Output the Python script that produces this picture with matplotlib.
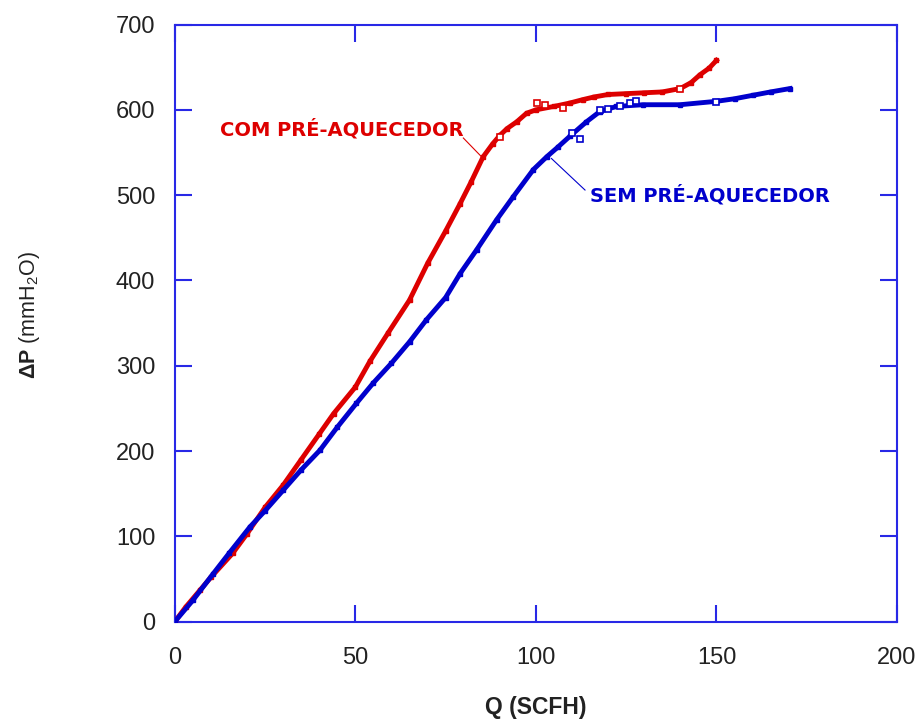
import matplotlib
matplotlib.use("Agg")
import matplotlib.pyplot as plt

plt.rcParams['font.family'] = ['Liberation Sans', 'DejaVu Sans']
plt.rcParams['mathtext.fontset'] = 'custom'
plt.rcParams['mathtext.rm'] = 'Liberation Sans'
plt.rcParams['mathtext.bf'] = 'Liberation Sans:bold'

# COM PRÉ-AQUECEDOR (red)
q_com = [0, 3, 7, 10, 16, 20, 25, 30, 35, 40, 44, 50, 54, 59, 65, 70, 75, 79, 82,
         85.4, 88, 90, 92, 94.7, 97.4, 100, 105, 109.4, 113, 116, 120, 125, 130,
         135, 140, 143, 145.4, 148, 150]
dp_com = [0, 17, 37, 52, 80, 103, 134, 160, 190, 220, 244, 275, 305, 338, 377, 420,
          458, 490, 515, 545, 560, 570, 578, 586, 596, 600, 604, 608, 612, 615, 618,
          619, 620, 621, 625, 632, 641, 649, 658]
q_com_open = [90, 100.2, 102.5, 107.6, 139.9]
dp_com_open = [568.6, 607.7, 606, 602, 625]

# SEM PRÉ-AQUECEDOR (blue)
q_sem = [0, 5, 10.6, 15, 20.8, 25, 30, 35, 40.2, 45, 50.3, 55, 60, 65, 69.7, 75, 79,
         83.6, 89.1, 93.7, 99.3, 103, 106, 109.4, 114, 117.7, 122.3, 129.7, 139.9,
         150, 155, 160, 165, 170.4]
dp_sem = [0, 25, 56, 80, 111, 130, 154, 178, 201, 228, 256, 280, 303, 328, 354, 380,
          408, 436, 471, 498, 530, 545, 556, 569, 586, 598, 604, 606, 606, 610, 613,
          617, 621, 625]
q_sem_open = [109.9, 112.2, 117.7, 120, 123.3, 126, 127.6, 150]
dp_sem_open = [573, 565.5, 600, 600.7, 604.5, 608, 610.8, 609]

x_ticks = [0, 50, 100, 150, 200]
y_ticks = [0, 100, 200, 300, 400, 500, 600, 700]

red = '#dd0000'
blue = '#0000cc'
frame = '#2828e6'

fig = plt.figure(figsize=(9.2, 7.22), dpi=100)
ax = fig.add_axes([0.190, 0.139, 0.785, 0.827])

ax.plot(q_com, dp_com, '-', color=red, lw=3.5, marker='s', ms=3.5, zorder=3)
ax.plot(q_sem, dp_sem, '-', color=blue, lw=3.5, marker='s', ms=3.5, zorder=3)
ax.plot(q_com_open, dp_com_open, 's', mfc='white', mec=red, ms=4.5, mew=1.2, ls='none', zorder=4)
ax.plot(q_sem_open, dp_sem_open, 's', mfc='white', mec=blue, ms=4.5, mew=1.2, ls='none', zorder=4)

ax.set_xlim(0, 200)
ax.set_ylim(0, 700)
ax.set_xticks(x_ticks)
ax.set_yticks(y_ticks)
for s in ax.spines.values():
    s.set_color(frame)
    s.set_linewidth(1.5)
ax.tick_params(direction='in', length=12, width=1.5, color=frame,
               top=True, right=True, labelsize=17, labelcolor='#222222')
ax.tick_params(axis='x', pad=18)
ax.tick_params(axis='y', pad=14)

ax.set_xlabel('Q (SCFH)', fontsize=16.5, fontweight='bold', labelpad=20, color='#222222')
fig.text(30 / 920, 1 - 315 / 722, r'$\mathbf{\Delta P}$ (mmH$_2$O)', fontsize=15.5,
         rotation=90, ha='center', va='center', color='#222222')

ax.text(12.5, 577, 'COM PRÉ-AQUECEDOR', color=red, fontsize=14, fontweight='heavy',
        va='center', ha='left', family=['DejaVu Sans'])
ax.plot([79.9, 85.4], [567, 543], color=red, lw=0.8)
ax.text(115, 500, 'SEM PRÉ-AQUECEDOR', color=blue, fontsize=14, fontweight='heavy',
        va='center', ha='left', family=['DejaVu Sans'])
ax.plot([113.6, 104.3], [506, 543], color=blue, lw=0.8)

fig.savefig('out.png', dpi=100)
